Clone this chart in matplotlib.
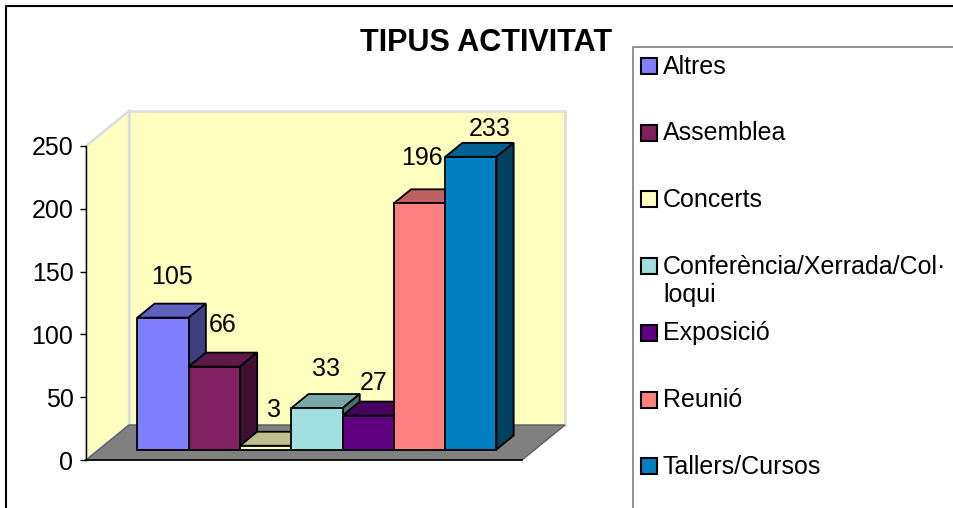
import matplotlib
matplotlib.use('Agg')
import matplotlib.pyplot as plt
from matplotlib.patches import Polygon, Rectangle
from matplotlib.colors import to_rgb

plt.rcParams['font.family'] = ['Liberation Sans', 'DejaVu Sans']

# ---- data ----
categories = ['Altres', 'Assemblea', 'Concerts', 'Conferència/Xerrada/Col·loqui',
              'Exposició', 'Reunió', 'Tallers/Cursos']
legend_labels = ['Altres', 'Assemblea', 'Concerts', 'Conferència/Xerrada/Col·\nloqui',
                 'Exposició', 'Reunió', 'Tallers/Cursos']
values = [105, 66, 3, 33, 27, 196, 233]
colors = ['#8080FF', '#802060', '#FFFFC0', '#A0E0E0', '#600080', '#FF8080', '#0080C0']
yticks = [0, 50, 100, 150, 200, 250]
title = 'TIPUS ACTIVITAT'

# label nudges (pixels; x right, y up) to mimic the original label placement
label_nudge = [(0, 3), (0, 4), (0, -2), (0, 1), (-3, -5), (-6, 7), (10, -10)]

W, H = 954, 508
FS = 18
fig = plt.figure(figsize=(W / 100, H / 100), dpi=100)
fig.patch.set_facecolor('white')

# background / decoration axes in pixel coordinates
bg = fig.add_axes([0, 0, 1, 1])
bg.set_xlim(0, W)
bg.set_ylim(H, 0)
bg.axis('off')
bg.plot([6, 6, W], [H, 6, 6], color='black', lw=1.5, solid_capstyle='butt')
bg.plot([633, 633, W], [H, 47, 47], color='#808080', lw=1.2, solid_capstyle='butt')
bg.text(486, 43, title, ha='center', va='center', fontsize=22, weight='bold')

# main plot axes
ax = fig.add_axes([86 / W, (H - 460) / H, 513 / W, 314 / H])
ax.set_xlim(0, 10)
ax.set_ylim(0, 250)
ax.patch.set_alpha(0)
for s in ['top', 'right', 'bottom']:
    ax.spines[s].set_visible(False)
ax.spines['left'].set_color('black')
ax.spines['left'].set_linewidth(1.0)
ax.spines['left'].set_zorder(20)
ax.set_xticks([])
ax.set_yticks(yticks)
ax.tick_params(axis='y', length=4.5, width=1.0, pad=4.5, labelsize=FS)

px_per_x = 51.3
px_per_v = 314 / 250
DX = 43 / px_per_x
DY = 35 / px_per_v
FLOOR_X1 = 8.5
X0 = 0.75
D_FRONT, D_BACK = 0.3, 0.7


def P(x, v, d):
    return (x + d * DX, v + d * DY)


def shade(c, f):
    r, g, b = to_rgb(c)
    return (r * f, g * f, b * f)


wall_fc = '#FFFFC0'
wall_ec = '#DCDCDC'
back = Polygon([P(0, 0, 1), P(FLOOR_X1, 0, 1), P(FLOOR_X1, 250, 1), P(0, 250, 1)],
               closed=True, fc=wall_fc, ec=wall_ec, lw=1.8, clip_on=False, zorder=1)
side = Polygon([P(0, 0, 0), P(0, 0, 1), P(0, 250, 1), P(0, 250, 0)],
               closed=True, fc=wall_fc, ec=wall_ec, lw=1.8, clip_on=False, zorder=1)
floor = Polygon([P(0, 0, 0), P(FLOOR_X1, 0, 0), P(FLOOR_X1, 0, 1), P(0, 0, 1)],
                closed=True, fc='#808080', ec='#606060', lw=1.0, clip_on=False, zorder=2)
ax.add_patch(back)
ax.add_patch(side)
ax.add_patch(floor)
ax.plot([0, FLOOR_X1], [0, 0], color='black', lw=1.2, clip_on=False, zorder=2.5)

for i, (v, c) in enumerate(zip(values, colors)):
    x = X0 + i
    z = 3 + i
    fx, fy = P(x, 0, D_FRONT)
    ax.bar(fx, v, width=1, bottom=fy, align='edge', color=c, edgecolor='black',
           lw=1.3, zorder=z + 0.5, clip_on=False)
    top = Polygon([P(x, v, D_FRONT), P(x + 1, v, D_FRONT), P(x + 1, v, D_BACK), P(x, v, D_BACK)],
                  closed=True, fc=shade(c, 0.75), ec='black', lw=1.3, clip_on=False, zorder=z)
    sd = Polygon([P(x + 1, 0, D_FRONT), P(x + 1, 0, D_BACK), P(x + 1, v, D_BACK), P(x + 1, v, D_FRONT)],
                 closed=True, fc=shade(c, 0.5), ec='black', lw=1.3, clip_on=False, zorder=z)
    ax.add_patch(top)
    ax.add_patch(sd)
    lx, ly = P(x + 0.5, v, 0.5)
    nx, ny = label_nudge[i]
    ax.text(lx + nx / px_per_x, ly + (31 + ny) / px_per_v, str(v), ha='center', va='center',
            fontsize=FS, zorder=30)

# legend (drawn in pixel coordinates)
for i, (lab, c) in enumerate(zip(legend_labels, colors)):
    yc = 66 + 66.7 * i
    bg.add_patch(Rectangle((641, yc - 8), 16, 16, fc=c, ec='black', lw=1.5))
    for k, line in enumerate(lab.split('\n')):
        bg.text(663, yc + 7.5 + 28 * k, line, ha='left', va='baseline', fontsize=FS)

fig.savefig('out.png', dpi=100)
